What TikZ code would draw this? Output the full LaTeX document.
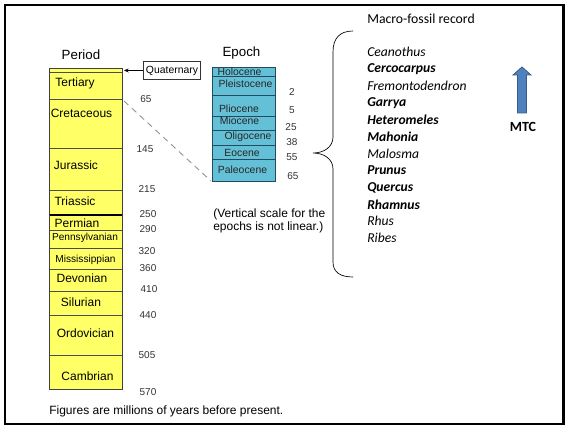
\documentclass[tikz,border=0pt]{standalone}
\usepackage{fontspec}
\setmainfont{Liberation Sans}
\newfontfamily\calfont{Carlito}
\usetikzlibrary{arrows.meta, positioning}
\definecolor{cYellow}{RGB}{255,255,102}
\definecolor{cCyan}{RGB}{100,192,214}
\definecolor{cEpLine}{RGB}{35,75,95}
\definecolor{cArrow}{RGB}{79,129,189}
\definecolor{cArrowLine}{RGB}{55,92,138}
\definecolor{cDash}{RGB}{150,150,150}
\tikzset{
	colbox/.style   ={draw=black!75, line width=0.6pt},
	bandline/.style ={draw=black!70, line width=0.5pt},
	epline/.style   ={draw=cEpLine, line width=0.6pt},
	pername/.style  ={font=\fontsize{9}{10}\selectfont, inner sep=0pt},
	tinyname/.style ={font=\fontsize{7.6}{9}\selectfont, inner sep=0pt},
	epname/.style   ={font=\fontsize{7.8}{9}\selectfont, inner sep=0pt, text=black!85},
	age/.style      ={font=\fontsize{7.5}{9}\selectfont, inner sep=0pt, text=black!80},
	head/.style     ={font=\fontsize{10}{12}\selectfont, inner sep=0pt},
	genus/.style    ={font=\calfont\fontsize{10.2}{12}\selectfont\itshape, anchor=west, inner sep=0pt},
	mtcgenus/.style ={font=\calfont\fontsize{10.2}{12}\selectfont\bfseries\itshape, anchor=west, inner sep=0pt},
	pointer/.style  ={-{Stealth[length=3.5pt, width=3pt]}, line width=0.5pt},
}
\begin{document}
\begin{tikzpicture}[x=0.75pt, y=-0.75pt]
	\useasboundingbox (0,0) rectangle (565,427);
	\fill[white] (0,0) rectangle (565,427);
	\draw[line width=2.2pt] (5,5) rectangle (563.5,424);
	% period column
	\node[head] (period) at (81,55) {Period};
	\fill[cYellow] (49,68) rectangle (122,389);
	\foreach \y in {72,99,148,190,230,248,269,291,315,355}
		\draw[bandline] (49,\y) -- (122,\y);
	\draw[line width=1.1pt] (49,215) -- (122,215);
	\draw[colbox] (49,68) rectangle (122,389);
	\node[pername] (tert) at (75,83) {Tertiary};
	\node[pername] (cret) at (81.5,113) {Cretaceous};
	\node[pername] (jur) at (76,165) {Jurassic};
	\node[pername] (tri) at (75,201) {Triassic};
	\node[pername] (perm) at (77,223) {Permian};
	\node[tinyname] (penn) at (85,238) {Pennsylvanian};
	\node[tinyname] (miss) at (85.5,259.5) {Mississippian};
	\node[pername] (dev) at (82,278) {Devonian};
	\node[pername] (sil) at (81,302) {Silurian};
	\node[pername] (ord) at (85.5,333) {Ordovician};
	\node[pername] (camb) at (87.5,376) {Cambrian};
	% ages of the periods
	\node[age] (a65) at (146,99) {65};
	\node[age] (a145) at (145,149) {145};
	\node[age] (a215) at (147,189) {215};
	\node[age] (a250) at (148,214) {250};
	\node[age] (a290) at (148,229) {290};
	\node[age] (a320) at (147,251) {320};
	\node[age] (a360) at (148,268) {360};
	\node[age] (a410) at (149,289) {410};
	\node[age] (a440) at (148,315) {440};
	\node[age] (a505) at (147,355) {505};
	\node[age] (a570) at (148,392) {570};
	% quaternary pointer
	\node[draw=black!80, line width=0.5pt, font=\fontsize{7.8}{9}\selectfont, inner xsep=2pt, minimum height=12.8pt] (quat) at (172,70.5) {Quaternary};
	\coordinate (qband) at (124,70.5);
	\draw[pointer] (quat) -- (qband);
	% epoch column
	\node[head] (epoch) at (241.5,53) {Epoch};
	\fill[cCyan] (212,67) rectangle (275,181);
	\foreach \y in {76,95,116,130,145,159}
		\draw[epline] (212,\y) -- (275,\y);
	\draw[epline] (212,67) rectangle (275,181);
	\node[epname] (holo) at (239.5,71.5) {Holocene};
	\node[epname] (pleis) at (245.5,84) {Pleistocene};
	\node[epname] (plio) at (239,109) {Pliocene};
	\node[epname] (mio) at (239.5,121) {Miocene};
	\node[epname] (oligo) at (248,137) {Oligocene};
	\node[epname] (eoc) at (242,152.5) {Eocene};
	\node[epname] (paleo) at (242.5,170) {Paleocene};
	\node[age] (e2) at (292,92) {2};
	\node[age] (e5) at (292,110) {5};
	\node[age] (e25) at (291,127) {25};
	\node[age] (e38) at (292,142) {38};
	\node[age] (e55) at (292,157) {55};
	\node[age] (e65) at (293,176) {65};
	\coordinate (kt) at (124,101);
	\coordinate (pbase) at (211,181);
	\draw[cDash, line width=0.7pt, dash pattern=on 4.5pt off 3.5pt] (kt) -- (pbase);
	\node[font=\fontsize{9}{9.75}\selectfont, align=left, anchor=west, inner sep=0pt] (note) at (213,220.5) {(Vertical scale for the\\epochs is not linear.)};
	\node[font=\fontsize{9}{10}\selectfont, anchor=west, inner sep=0pt] (foot) at (49,411) {Figures are millions of years before present.};
	% macro-fossil record
	\draw[line width=0.5pt] (353,31) .. controls (340,31) and (333,38) .. (333,52) -- (333,137)
		.. controls (333,147) and (324,153) .. (313,153) .. controls (324,153) and (333,159) .. (333,169)
		-- (333,262) .. controls (333,272) and (340,277) .. (353,277);
	\node[font=\calfont\fontsize{10.3}{12}\selectfont, anchor=west, inner sep=0pt] (record) at (367,19) {Macro-fossil record};
	\node[genus] (g1) at (367,52.3) {Ceanothus};
	\node[mtcgenus] (g2) at (367,69.2) {Cercocarpus};
	\node[genus] (g3) at (367,86.1) {Fremontodendron};
	\node[mtcgenus] (g4) at (367,103) {Garrya};
	\node[mtcgenus] (g5) at (367,119.9) {Heteromeles};
	\node[mtcgenus] (g6) at (367,136.8) {Mahonia};
	\node[genus] (g7) at (367,153.7) {Malosma};
	\node[mtcgenus] (g8) at (367,170.6) {Prunus};
	\node[mtcgenus] (g9) at (367,187.5) {Quercus};
	\node[mtcgenus] (g10) at (367,204.4) {Rhamnus};
	\node[genus] (g11) at (367,221.3) {Rhus};
	\node[genus] (g12) at (367,238.2) {Ribes};
	\filldraw[fill=cArrow, draw=cArrowLine, line width=0.6pt] (517.5,113) -- (517.5,75) -- (513,75) -- (522,67) -- (531,75) -- (526.5,75) -- (526.5,113) -- cycle;
	\node[font=\calfont\fontsize{10.5}{12}\selectfont\bfseries, inner sep=0pt] (mtc) at (523,127) {MTC};
\end{tikzpicture}
\end{document}
